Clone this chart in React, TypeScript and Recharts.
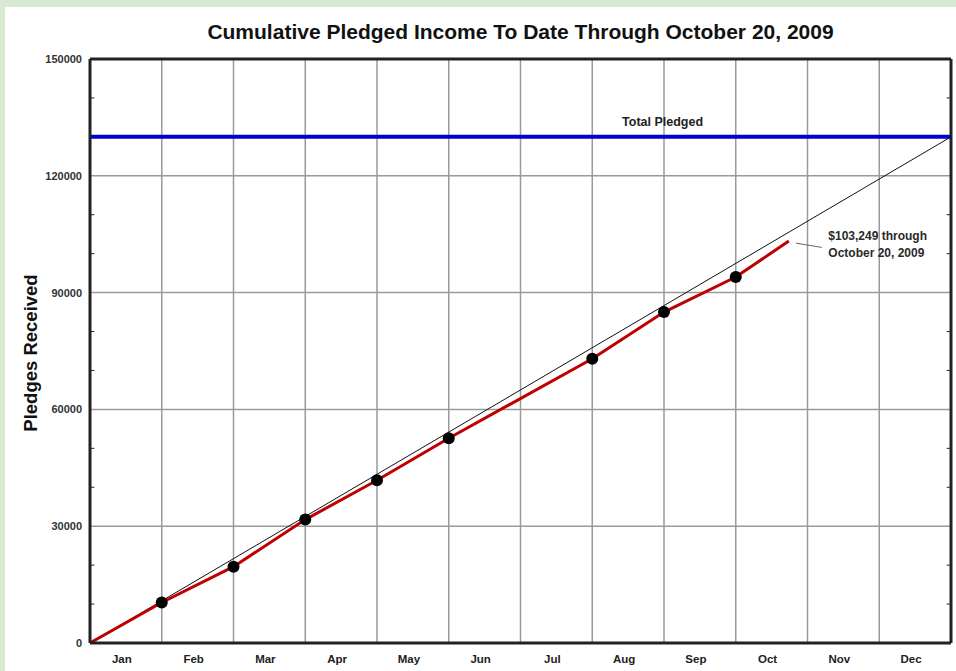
import React from 'react';
import {
  ComposedChart,
  Line,
  XAxis,
  YAxis,
  CartesianGrid,
  ReferenceLine,
  ReferenceDot,
} from 'recharts';

// ---- data ----
const months = ['Jan', 'Feb', 'Mar', 'Apr', 'May', 'Jun', 'Jul', 'Aug', 'Sep', 'Oct', 'Nov', 'Dec'];
const monthTickPositions = [0.5, 1.5, 2.5, 3.5, 4.5, 5.5, 6.5, 7.5, 8.5, 9.5, 10.5, 11.5];
const monthBoundaries = [1, 2, 3, 4, 5, 6, 7, 8, 9, 10, 11];

// cumulative pledges received (x = months elapsed since Jan 1)
const pledgeMonths = [0, 1, 2, 3, 4, 5, 7, 8, 9, 9.74];
const pledgeValues = [0, 10400, 19600, 31700, 41800, 52600, 73000, 85000, 94000, 103249];
const pledgeDots = [false, true, true, true, true, true, true, true, true, false];

const totalPledged = 130000;
const yearStart = 0;
const yearEnd = 12;

const majorTicks = [0, 30000, 60000, 90000, 120000, 150000];
const minorTicks = [10000, 20000, 40000, 50000, 70000, 80000, 100000, 110000, 130000, 140000];
const minorTickLength = 0.06; // in months
const yMax = 150000;

const annotationLines = ['$103,249 through', 'October 20, 2009'];
const annotationAnchor = { x: 10.29, y: 103600 };
const leader = [
  { x: 9.84, y: 102700 },
  { x: 10.2, y: 101600 },
];
const totalLabel = 'Total Pledged';
const totalLabelX = 7.98;

// ---- derived tables ----
const pledgeData = pledgeMonths.map((x, i) => ({ x, y: pledgeValues[i], dot: pledgeDots[i] }));
const trendData = [
  { x: yearStart, y: 0 },
  { x: yearEnd, y: totalPledged },
];
const totalData = [
  { x: yearStart, y: totalPledged },
  { x: yearEnd, y: totalPledged },
];

const FONT = '"Liberation Sans", Arial, sans-serif';
const FRAME = '#222';
const GRID = '#9a9a9a';

const PledgeDot = (props: any) => {
  const { cx, cy, payload, index } = props;
  if (!payload || !payload.dot) return <g key={`d${index}`} />;
  return <circle key={`d${index}`} cx={cx} cy={cy} r={6} fill="#000" stroke="none" />;
};

const AnnotationShape = (props: any) => {
  const { cx, cy } = props;
  return (
    <g>
      {annotationLines.map((t, i) => (
        <text
          key={i}
          x={cx}
          y={cy + i * 17}
          fontFamily={FONT}
          fontSize={12}
          fontWeight="bold"
          fill="#2a2a2a"
          textAnchor="start"
        >
          {t}
        </text>
      ))}
    </g>
  );
};

const TotalShape = (props: any) => {
  const { cx, cy } = props;
  return (
    <text x={cx} y={cy - 11} fontFamily={FONT} fontSize={12.5} fontWeight="bold" fill="#222" textAnchor="middle">
      {totalLabel}
    </text>
  );
};

export default function App() {
  return (
    <div style={{ position: 'absolute', left: 0, top: 0, width: 956, height: 671, background: '#d7e9d0', overflow: 'hidden' }}>
      <div style={{ position: 'absolute', left: 5, top: 7, width: 951, height: 664, background: '#fff' }} />
      <div
        style={{
          position: 'absolute',
          left: 90,
          width: 861,
          top: 19,
          textAlign: 'center',
          fontFamily: FONT,
          fontWeight: 'bold',
          fontSize: 21,
          color: '#111',
          lineHeight: '26px',
        }}
      >
        Cumulative Pledged Income To Date Through October 20, 2009
      </div>
      <div
        style={{
          position: 'absolute',
          left: 31 - 100,
          top: 353 - 12,
          width: 200,
          height: 24,
          lineHeight: '24px',
          textAlign: 'center',
          transform: 'rotate(-90deg)',
          fontFamily: FONT,
          fontWeight: 'bold',
          fontSize: 18.5,
          color: '#111',
        }}
      >
        Pledges Received
      </div>
      <div style={{ position: 'absolute', left: 0, top: 0 }}>
        <ComposedChart width={956} height={671} margin={{ top: 59, right: 5, bottom: 0, left: 10 }}>
          <CartesianGrid vertical={false} stroke={GRID} strokeWidth={1.5} />
          {monthBoundaries.map((b) => (
            <ReferenceLine key={`mb${b}`} x={b} stroke={GRID} strokeWidth={1.5} />
          ))}
          <XAxis
            type="number"
            dataKey="x"
            domain={[yearStart, yearEnd]}
            ticks={monthTickPositions}
            tickFormatter={(v: number) => months[Math.floor(v)]}
            allowDataOverflow
            height={28}
            tickLine={false}
            tickSize={0}
            tickMargin={12}
            axisLine={{ stroke: FRAME, strokeWidth: 3 }}
            tick={{ fontFamily: FONT, fontSize: 11.5, fontWeight: 'bold', fill: '#222', dx: -4 }}
            interval={0}
          />
          <YAxis
            type="number"
            domain={[0, yMax]}
            ticks={majorTicks}
            width={80}
            tickLine={false}
            tickSize={0}
            tickMargin={8}
            axisLine={{ stroke: FRAME, strokeWidth: 3 }}
            tick={{ fontFamily: FONT, fontSize: 11, fontWeight: 'bold', fill: '#333' }}
            interval={0}
          />
          {minorTicks.map((v) => (
            <ReferenceLine
              key={`tl${v}`}
              segment={[
                { x: yearStart, y: v },
                { x: yearStart + minorTickLength, y: v },
              ]}
              stroke={FRAME}
              strokeWidth={1}
            />
          ))}
          {minorTicks.map((v) => (
            <ReferenceLine
              key={`tr${v}`}
              segment={[
                { x: yearEnd - minorTickLength, y: v },
                { x: yearEnd, y: v },
              ]}
              stroke={FRAME}
              strokeWidth={1}
            />
          ))}
          <ReferenceLine y={yMax} stroke={FRAME} strokeWidth={3} />
          <ReferenceLine x={yearEnd} stroke={FRAME} strokeWidth={3} />
          <Line
            data={totalData}
            dataKey="y"
            stroke="#0000cc"
            strokeWidth={4}
            dot={false}
            activeDot={false}
            isAnimationActive={false}
          />
          <Line
            data={trendData}
            dataKey="y"
            stroke="#111"
            strokeWidth={1}
            dot={false}
            activeDot={false}
            isAnimationActive={false}
          />
          <Line
            data={pledgeData}
            dataKey="y"
            stroke="#c00000"
            strokeWidth={3}
            dot={PledgeDot}
            activeDot={false}
            isAnimationActive={false}
          />
          <ReferenceLine segment={leader} stroke="#666" strokeWidth={1} />
          <ReferenceDot x={annotationAnchor.x} y={annotationAnchor.y} r={0} shape={AnnotationShape} />
          <ReferenceDot x={totalLabelX} y={totalPledged} r={0} shape={TotalShape} />
        </ComposedChart>
      </div>
    </div>
  );
}
